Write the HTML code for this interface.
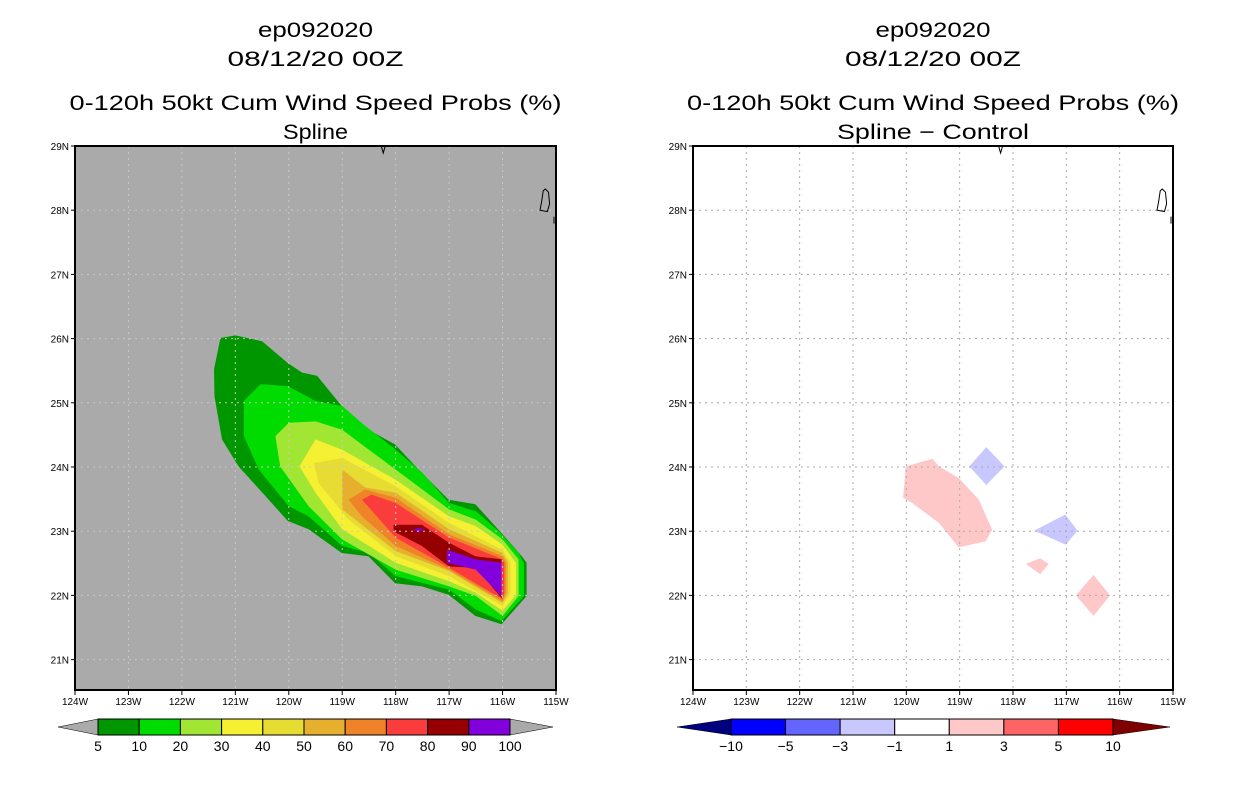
<!DOCTYPE html>
<html><head><meta charset="utf-8"><style>
html,body{margin:0;padding:0;background:#fff;}
svg{display:block;font-family:"Liberation Sans",sans-serif;}
</style></head><body>
<svg id="root" width="1236" height="800" viewBox="0 0 1236 800" xmlns="http://www.w3.org/2000/svg">
<g id="left"></g>
<g id="right"></g>
</svg>
<script>
// ---- data ----
const lonTicks = [-124,-123,-122,-121,-120,-119,-118,-117,-116,-115];
const latTicks = [21,22,23,24,25,26,27,28,29];
const probLevels = [5,10,20,30,40,50,60,70,80,90,100];
const probColors = ["#009600","#00dc00","#a0e632","#f5f032","#e6dc32","#e6af2d","#f08228","#fa3c3c","#960000","#8200dc"];
const diffLevels = [-10,-5,-3,-1,1,3,5,10];
const diffColors = ["#0000ff","#6464ff","#c8c8ff","#ffffff","#ffc8c8","#ff6464","#ff0000"];
const prob5 = [[-121.28,26.01],[-121,26.05],[-120.5,25.96],[-120.02,25.62],[-119.75,25.47],[-119.47,25.42],[-119.01,24.95],[-118.51,24.58],[-118.01,24.35],[-117.57,23.96],[-117.01,23.49],[-116.51,23.42],[-116.02,22.97],[-115.64,22.61],[-115.55,22.51],[-115.55,21.99],[-116.02,21.55],[-116.51,21.68],[-117.01,22.01],[-117.51,22.14],[-118.01,22.19],[-118.51,22.61],[-119.01,22.66],[-119.63,23.03],[-120.02,23.16],[-120.44,23.55],[-120.94,24.01],[-121.25,24.43],[-121.39,25.10],[-121.40,25.52]];
const prob10 = [[-120.84,25.03],[-120.53,25.29],[-120.02,25.26],[-119.5,25.03],[-119,24.95],[-118.57,24.64],[-118.04,24.3],[-117.5,23.91],[-117,23.44],[-116.5,23.31],[-116.07,23.0],[-115.7,22.66],[-115.6,22.5],[-115.6,21.99],[-116.02,21.6],[-116.5,21.78],[-117,22.09],[-118,22.3],[-118.5,22.66],[-119,22.77],[-119.63,23.23],[-120,23.39],[-120.56,23.96],[-120.84,24.48]];
const prob20 = [[-120.25,24.48],[-120,24.69],[-119.5,24.71],[-119,24.58],[-118.5,24.27],[-118,23.96],[-117,23.34],[-116.5,23.18],[-116,22.87],[-115.7,22.56],[-115.7,21.99],[-116,21.68],[-116.5,21.99],[-117,22.14],[-118,22.4],[-119,22.87],[-119.63,23.39],[-120.16,24.01]];
const prob30 = [[-119.8,24.01],[-119.5,24.43],[-119,24.27],[-118,23.8],[-117,23.23],[-116.5,23.08],[-116,22.79],[-115.75,22.51],[-115.75,22.01],[-116,21.76],[-116.5,22.04],[-117,22.22],[-118,22.51],[-119,23.03],[-119.5,23.6]];
const prob40 = [[-119.53,24.06],[-119,24.14],[-118,23.7],[-117,23.13],[-116,22.71],[-115.85,22.51],[-115.85,22.04],[-116,21.83],[-117,22.3],[-118,22.61],[-118.88,23.18],[-119.44,23.75]];
const prob50 = [[-119,23.96],[-118.57,23.68],[-118,23.6],[-117,23.03],[-116,22.66],[-115.9,22.51],[-115.9,22.04],[-116,21.88],[-117,22.38],[-118,22.69],[-119,23.34]];
const prob60 = [[-118.88,23.49],[-118.57,23.65],[-118,23.52],[-117,22.95],[-116,22.61],[-115.94,22.51],[-115.94,22.04],[-116,21.91],[-117,22.4],[-118,22.77],[-118.63,23.23]];
const prob70 = [[-118.63,23.49],[-118.45,23.57],[-118,23.44],[-117,22.9],[-116,22.56],[-115.97,22.51],[-115.97,22.04],[-116,21.94],[-117,22.43],[-118,22.9]];
const prob80 = [[-118.04,23.1],[-117.51,23.1],[-117,22.82],[-116.51,22.61],[-116.02,22.56],[-116.02,21.96],[-116.5,22.43],[-117,22.45],[-117.51,22.77],[-118.04,23.0]];
const prob90 = [[-117.04,22.71],[-116.5,22.56],[-116.02,22.51],[-116.02,21.99],[-116.5,22.4],[-117.04,22.51]];
const prob90b = [[-117.68,23.02],[-117.57,23.05],[-117.46,23.02],[-117.57,22.99]];
const probPolys = [prob5,prob10,prob20,prob30,prob40,prob50,prob60,prob70,prob80,prob90,prob90b];
const probPolyLevel = [0,1,2,3,4,5,6,7,8,9,9];
const diffA = [[-120.01,24.01],[-119.51,24.13],[-119.39,24.01],[-119.02,23.83],[-118.64,23.49],[-118.39,23.02],[-118.52,22.84],[-119.02,22.75],[-119.39,23.13],[-119.89,23.44],[-120.06,23.52]];
const diffB = [[-118.82,24.01],[-118.5,24.31],[-118.16,24.01],[-118.5,23.72]];
const diffC = [[-117.6,23.01],[-117.02,23.26],[-116.79,23.01],[-117.01,22.79]];
const diffD = [[-117.76,22.49],[-117.49,22.58],[-117.33,22.49],[-117.49,22.33]];
const diffE = [[-116.82,22.0],[-116.49,22.32],[-116.18,22.0],[-116.49,21.68]];
const diffPolys = [diffA,diffB,diffC,diffD,diffE];
const diffPolyLevel = [4,2,2,4,4];
const island = [[-115.2,28.33],[-115.14,28.28],[-115.12,28.1],[-115.16,27.98],[-115.3,28.0],[-115.27,28.13],[-115.24,28.3]];

// ---- layout ----
const NS="http://www.w3.org/2000/svg";
function el(tag,attrs,parent){const e=document.createElementNS(NS,tag);for(const k in attrs)e.setAttribute(k,attrs[k]);parent.appendChild(e);return e;}
function panel(g,x0,x1,title4,bg,polys,levels,colors){
  const y0=146,y1=690;
  const lonMin=-124,lonMax=-115,latTop=29,pxPerLat=64.2;
  const X=lon=>x0+(lon-lonMin)/(lonMax-lonMin)*(x1-x0);
  const Y=lat=>y0+(latTop-lat)*pxPerLat;
  const cx=(x0+x1)/2;
  const titles=["ep092020","08/12/20 00Z","0-120h 50kt Cum Wind Speed Probs (%)",title4];
  const ty=[37,66,110,139];
  const tl=[115,176,492,title4==="Spline"?65:192];
  titles.forEach((t,i)=>{const e=el("text",{x:cx,y:ty[i],"text-anchor":"middle","font-size":21,textLength:tl[i],lengthAdjust:"spacingAndGlyphs",fill:"#000"},g);e.textContent=t;
    
    });
  const bgR=el("rect",{x:x0,y:y0,width:x1-x0,height:y1-y0,fill:bg},g);
  
  
  polys.forEach((p,i)=>{const pl=el("polygon",{points:p.map(q=>X(q[0]).toFixed(1)+","+Y(q[1]).toFixed(1)).join(" "),fill:colors[levels[i]]},g);
    
    });
  lonTicks.slice(1,-1).forEach(l=>{const ln=el("line",{x1:X(l),x2:X(l),y1:y0,y2:y1,stroke:bg==="#ffffff"?"#aaa":"#c8c8c8","stroke-width":1,"stroke-dasharray":"2,4"},g);
    
    });
  latTicks.forEach(l=>{if(Y(l)<=y0+1)return;const ln=el("line",{x1:x0,x2:x1,y1:Y(l),y2:Y(l),stroke:bg==="#ffffff"?"#aaa":"#c8c8c8","stroke-width":1,"stroke-dasharray":"2,4"},g);
    
    });
  const is=el("polygon",{points:island.map(q=>X(q[0]).toFixed(1)+","+Y(q[1]).toFixed(1)).join(" "),fill:"none",stroke:"#000","stroke-width":1},g);
  
  
  const v=el("path",{d:`M${X(-118.27)} ${y0} l2 7 l2 -7 M${x1-2} ${Y(27.9)} l0 7`,fill:"none",stroke:"#000","stroke-width":1},g);
  
  
  const fr=el("rect",{x:x0,y:y0,width:x1-x0,height:y1-y0,fill:"none",stroke:"#000","stroke-width":2},g);
  
  
  lonTicks.forEach(l=>{const t=el("line",{x1:X(l),x2:X(l),y1:y1,y2:y1+5,stroke:"#000","stroke-width":1},g);
    
    
    const tx=el("text",{x:X(l),y:y1+15,"text-anchor":"middle","font-size":10},g);tx.textContent=(-l)+"W";
    
    });
  latTicks.forEach(l=>{const t=el("line",{x1:x0-4,x2:x0,y1:Y(l),y2:Y(l),stroke:"#000","stroke-width":1},g);
    
    
    const tx=el("text",{x:x0-6,y:Y(l)+4,"text-anchor":"end","font-size":10},g);tx.textContent=l+"N";
    
    });
}
function colorbar(g,xl,xr,labels,colors,triL,triR,twL,twR){
  const y0=719,y1=735,n=colors.length;
  const w=(xr-xl)/n;
  const a=el("polygon",{points:`${xl-twL},${(y0+y1)/2} ${xl},${y0} ${xl},${y1}`,fill:triL,stroke:"#000","stroke-width":0.5},g);
  
  
  const b=el("polygon",{points:`${xr+twR},${(y0+y1)/2} ${xr},${y0} ${xr},${y1}`,fill:triR,stroke:"#000","stroke-width":0.5},g);
  
  
  colors.forEach((c,i)=>{const r=el("rect",{x:xl+i*w,y:y0,width:w,height:y1-y0,fill:c,stroke:"#000","stroke-width":1},g);
    
    });
  labels.forEach((t,i)=>{const tx=el("text",{x:xl+i*w,y:751,"text-anchor":"middle","font-size":14},g);tx.textContent=(t<0?"\u2212"+(-t):t);
    
    });
}
const L=document.getElementById("left"),R=document.getElementById("right");
panel(L,75,556,"Spline","#aaaaaa",probPolys,probPolyLevel,probColors);
panel(R,693,1173,"Spline \u2212 Control","#ffffff",diffPolys,diffPolyLevel,diffColors);
colorbar(L,98,510,probLevels,probColors,"#aaaaaa","#aaaaaa",40,43);
colorbar(R,731,1113,diffLevels,diffColors,"#00007f","#7f0000",54,57);
</script>
</body></html>
